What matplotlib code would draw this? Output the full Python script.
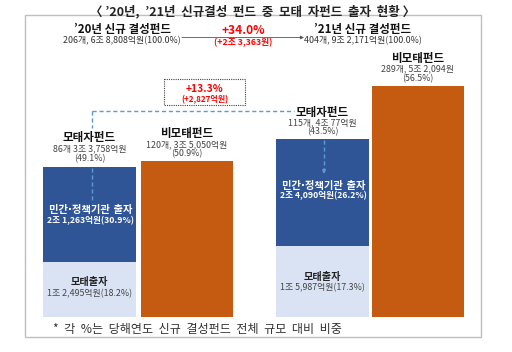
import matplotlib.pyplot as plt
from matplotlib.patches import Rectangle

plt.rcParams['font.family'] = ['Noto Sans CJK KR', 'DejaVu Sans']

# ── 데이터 (억원) ────────────────────────────────────────────────
groups = ['’20년', '’21년']
mother_amt = [12495, 15987]      # 모태출자
private_amt = [21263, 24090]     # 민간·정책기관 출자
nonmother_amt = [35050, 52094]   # 비모태펀드

total_label = ['206개, 6조 8,808억원(100.0%)', '404개, 9조 2,171억원(100.0%)']
sub_label = ['86개 3조 3,758억원', '115개, 4조 77억원']
sub_pct = ['(49.1%)', '(43.5%)']
non_label = ['120개, 3조 5,050억원', '289개, 5조 2,094원']
non_pct = ['(50.9%)', '(56.5%)']
private_label = ['2조 1,263억원(30.9%)', '2조 4,090억원(26.2%)']
mother_label = ['1조 2,495억원(18.2%)', '1조 5,987억원(17.3%)']

DARK = '#2F5597'
LIGHT = '#DAE3F3'
ORANGE = '#C55A11'
RED = '#FF0000'
DASH = '#5B9BD5'

SMALL = 6.4
BOLD = 8.3

W, H = 512, 352
fig = plt.figure(figsize=(W / 100, H / 100), dpi=100)

# bar axes: baseline at y=317px, top at y=60px
base_px, top_px = 317, 60
bx = fig.add_axes([0, (H - base_px) / H, 1, (base_px - top_px) / H])
bx.set_xlim(0, W)
bx.set_ylim(0, (base_px - top_px) / 0.00444)
bx.axis('off')

# overlay in pixel coordinates (on top of the bars)
ov = fig.add_axes([0, 0, 1, 1])
ov.set_xlim(0, W)
ov.set_ylim(H, 0)
ov.axis('off')
ov.set_zorder(5)

sub_x = [89.5, 322.5]
non_x = [187, 417.5]
bw = 93
bx.bar(sub_x, mother_amt, width=bw, color=LIGHT, zorder=2)
bx.bar(sub_x, private_amt, width=bw, bottom=mother_amt, color=DARK, zorder=2)
bx.bar(non_x, nonmother_amt, width=bw - 1, color=ORANGE, zorder=2)

# frame
ov.add_patch(Rectangle((25, 15), 456, 322, fill=False, ec='#BFBFBF', lw=1.0))

# title
ov.text(253, 11, '〈 ’20년,  ’21년  신규결성  펀드  중  모태  자펀드  출자  현황 〉',
        ha='center', va='center', fontsize=9.0, fontweight='bold', color='#222222')

# header totals
for cx, g, lab in zip([122, 363], groups, total_label):
    ov.text(cx, 29, f'{g} 신규 결성펀드', ha='center', va='center',
            fontsize=BOLD, fontweight='bold', color='#111111')
    ov.text(cx, 40.5, lab, ha='center', va='center', fontsize=SMALL, color='#333333')

ov.annotate('', xy=(304, 37.5), xytext=(182, 37.5),
            arrowprops=dict(arrowstyle='-|>', color='#555555', lw=0.6,
                            mutation_scale=5, shrinkA=0, shrinkB=0))
ov.text(243, 31, '+34.0%', ha='center', va='center', fontsize=8.6,
        fontweight='bold', color=RED)
ov.text(243, 43, '(+2조 3,363원)', ha='center', va='center', fontsize=6.3,
        fontweight='bold', color=RED)

# +13.3% box
ov.add_patch(Rectangle((164, 79), 81, 26, fill=False, ec='#444444', lw=0.8,
                       ls=(0, (1, 1))))
ov.text(205, 89, '+13.3%', ha='center', va='center', fontsize=7.4,
        fontweight='bold', color=RED)
ov.text(205, 99.5, '(+2,827억원)', ha='center', va='center', fontsize=5.8,
        fontweight='bold', color=RED)

# dashed guide lines
dkw = dict(color=DASH, lw=1.0, ls=(0, (3, 2)), zorder=3)
ov.plot([92, 294], [111, 111], **dkw)
ov.plot([92, 92], [111, 128], **dkw)
ov.plot([92, 92], [168, 203], **dkw)
ov.plot([324, 324], [140, 170], **dkw)
ov.annotate('', xy=(324, 174), xytext=(324, 169),
            arrowprops=dict(arrowstyle='-|>', color=DASH, lw=0.9,
                            mutation_scale=5, shrinkA=0, shrinkB=0), zorder=3)

# labels above bars
sub_y = [(137, 149, 159), (112, 123, 132)]
non_y = [(133, 145, 154), (58, 69, 79)]
for i in range(2):
    y1, y2, y3 = sub_y[i]
    ov.text(sub_x[i], y1, '모태자펀드', ha='center', va='center', fontsize=BOLD,
            fontweight='bold', color='#111111')
    ov.text(sub_x[i], y2, sub_label[i], ha='center', va='center', fontsize=SMALL,
            color='#444444')
    ov.text(sub_x[i], y3, sub_pct[i], ha='center', va='center', fontsize=SMALL,
            color='#444444')
    y1, y2, y3 = non_y[i]
    ov.text(non_x[i], y1, '비모태펀드', ha='center', va='center', fontsize=BOLD,
            fontweight='bold', color='#111111')
    ov.text(non_x[i], y2, non_label[i], ha='center', va='center', fontsize=SMALL,
            color='#444444')
    ov.text(non_x[i], y3, non_pct[i], ha='center', va='center', fontsize=SMALL,
            color='#444444')

# labels inside bars
priv_y = [(210, 221), (186, 196)]
moth_y = [(282, 294), (277, 288)]
for i in range(2):
    ov.text(sub_x[i] + 1, priv_y[i][0], '민간·정책기관 출자', ha='center', va='center',
            fontsize=7.4, fontweight='bold', color='white', zorder=4,
            family=['DejaVu Sans', 'Noto Sans CJK KR'])
    ov.text(sub_x[i] + 1, priv_y[i][1], private_label[i], ha='center', va='center',
            fontsize=6.2, fontweight='bold', color='white', zorder=4)
    ov.text(sub_x[i], moth_y[i][0], '모태출자', ha='center', va='center',
            fontsize=7.3, fontweight='bold', color='#222222', zorder=4)
    ov.text(sub_x[i], moth_y[i][1], mother_label[i], ha='center', va='center',
            fontsize=SMALL, color='#444444', zorder=4)

# footnote
ov.text(53, 330, '*  각  %는  당해연도  신규  결성펀드  전체  규모  대비  비중',
        ha='left', va='center', fontsize=8.7, color='#333333')

fig.savefig('out.png', dpi=100)
